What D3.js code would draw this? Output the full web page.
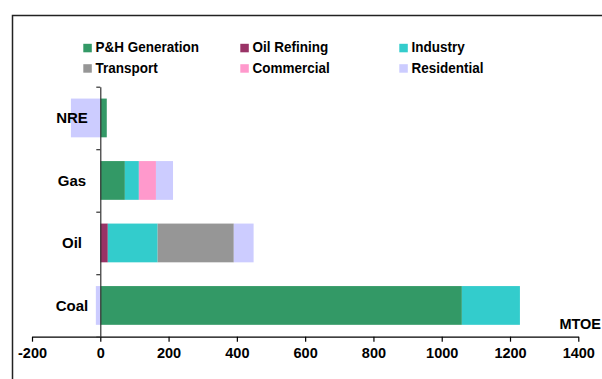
<!DOCTYPE html>
<html>
<head>
<meta charset="utf-8">
<script src="https://cdn.jsdelivr.net/npm/d3@7"></script>
<style>
  html, body { margin: 0; padding: 0; background: #fff; }
  svg { display: block; }
  text { font-family: "Liberation Sans", Arial, sans-serif; font-weight: bold; fill: #000; }
</style>
</head>
<body>
<svg id="chart" width="602" height="379"></svg>
<script>
// ---- data ----
const categories = ["NRE", "Gas", "Oil", "Coal"];
const seriesNames = ["P&H Generation", "Oil Refining", "Industry", "Transport", "Commercial", "Residential"];
const seriesColors = ["#339966", "#993366", "#33CCCC", "#969696", "#FF99CC", "#CCCCFF"];
const phGeneration = [19, 72, 0, 1059];
const oilRefining  = [0, 0, 22, 0];
const industry     = [0, 41, 146, 170];
const transport    = [0, 0, 223, 0];
const commercial   = [0, 50, 0, 0];
const residential  = [-86, 50, 58, -13];
const xTicks = [-200, 0, 200, 400, 600, 800, 1000, 1200, 1400];
const unitLabel = "MTOE";

const seriesValues = [phGeneration, oilRefining, industry, transport, commercial, residential];
const rows = categories.map((c, i) => {
  const r = { cat: c };
  seriesNames.forEach((s, j) => r[s] = seriesValues[j][i]);
  return r;
});

const svg = d3.select("#chart");

// outer frame (extends beyond the window on right/bottom)
svg.append("path")
  .attr("d", "M12.5,400 L12.5,15.5 L620,15.5")
  .attr("fill", "none").attr("stroke", "#222").attr("stroke-width", 1.5);

const x = d3.scaleLinear().domain([-200, 1400]).range([32, 578.3]);
const y = d3.scaleBand().domain(categories).range([86.7, 336.7])
  .paddingInner(0.38).paddingOuter(0.19);

const stack = d3.stack().keys(seriesNames).offset(d3.stackOffsetDiverging);
const stacked = stack(rows);

const g = svg.append("g");
g.selectAll("g.series").data(stacked).join("g")
  .attr("class", "series")
  .attr("fill", (d, i) => seriesColors[i])
  .selectAll("rect").data(d => d).join("rect")
  .attr("x", d => x(Math.min(d[0], d[1])))
  .attr("width", d => Math.abs(x(d[1]) - x(d[0])))
  .attr("y", d => y(d.data.cat))
  .attr("height", y.bandwidth());

// x axis
const xAxis = d3.axisBottom(x).tickValues(xTicks).tickSize(5).tickSizeOuter(0).tickPadding(6)
  .tickFormat(d => String(d));
const xg = svg.append("g").attr("transform", "translate(0,336.7)").call(xAxis);
xg.select(".domain").attr("stroke", "#000").attr("stroke-width", 1.2);
xg.selectAll(".tick line").attr("stroke", "#000").attr("stroke-width", 1.2);
xg.selectAll(".tick text").attr("font-size", "14.5px").attr("fill", "#000")
  .attr("font-family", "'Liberation Sans', Arial, sans-serif").attr("font-weight", "bold");

// y axis: line at 0 with ticks at category boundaries
const yLin = d3.scaleLinear().domain([0, categories.length]).range([86.7, 336.7]);
const yAxis = d3.axisLeft(yLin).ticks(categories.length).tickSize(4).tickSizeOuter(0).tickFormat("");
const yg = svg.append("g").attr("transform", `translate(${x(0)},0)`).call(yAxis);
yg.select(".domain").attr("stroke", "#333").attr("stroke-width", 1.2);
yg.selectAll(".tick line").attr("stroke", "#333").attr("stroke-width", 1.2);

// category labels
svg.append("g").selectAll("text").data(categories).join("text")
  .attr("x", 72)
  .attr("y", d => y(d) + y.bandwidth() / 2)
  .attr("dy", "0.36em")
  .attr("text-anchor", "middle")
  .attr("font-size", "15px")
  .text(d => d);

// unit label (kept fully inside the window)
svg.append("text").attr("x", 601).attr("y", 329).attr("text-anchor", "end")
  .attr("font-size", "14.5px").text(unitLabel);

// legend
const legCols = [83.3, 240.3, 399.3];
const legRows = [52.3, 72.7];
const leg = svg.append("g").selectAll("g").data(seriesNames).join("g")
  .attr("transform", (d, i) => `translate(${legCols[i % 3]},${legRows[Math.floor(i / 3)]})`);
leg.append("rect").attr("x", 0).attr("y", -8.5).attr("width", 8.5).attr("height", 8.5)
  .attr("fill", (d, i) => seriesColors[i]);
leg.append("text").attr("transform", "translate(12.2,0) scale(0.93,1)")
  .attr("font-size", "14.5px").text(d => d);
</script>
</body>
</html>
